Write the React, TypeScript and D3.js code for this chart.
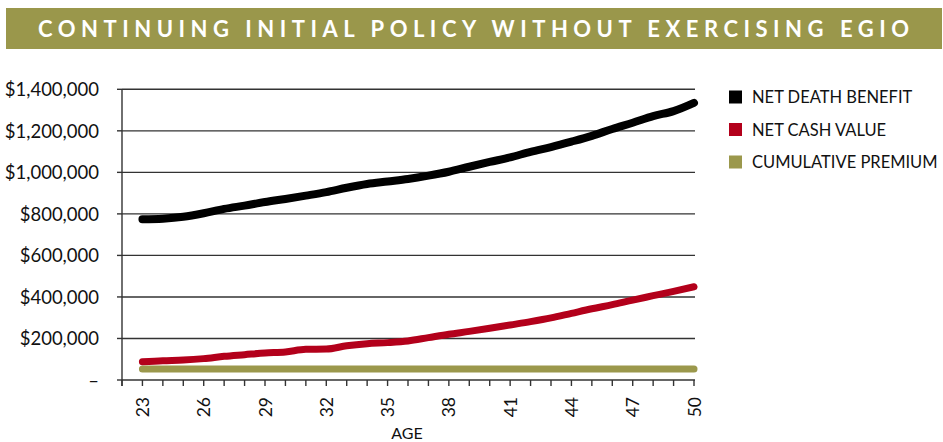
import * as d3 from 'd3'

const TITLE = 'CONTINUING INITIAL POLICY WITHOUT EXERCISING EGIO'

const ages = d3.range(23, 51)
const deathBenefit = [
  774000, 777000, 786000, 803000, 824000, 840000, 857000, 872000, 888000, 905000,
  926000, 944000, 956000, 968000, 984000, 1003000, 1027000, 1050000, 1072000, 1099000,
  1122000, 1148000, 1176000, 1209000, 1239000, 1271000, 1295000, 1335000,
]
const cashValue = [
  88000, 93000, 96000, 103000, 114000, 122000, 130000, 135000, 148000, 149000,
  165000, 175000, 180000, 188000, 204000, 220000, 234000, 249000, 265000, 281000,
  299000, 321000, 343000, 363000, 385000, 406000, 427000, 449000,
]
const cumulativePremium = ages.map(() => 53000)

const yTicks = [0, 200000, 400000, 600000, 800000, 1000000, 1200000, 1400000]
const xLabels = [23, 26, 29, 32, 35, 38, 41, 44, 47, 50]

const series = [
  { name: 'NET DEATH BENEFIT', values: deathBenefit, color: '#000000', width: 8 },
  { name: 'NET CASH VALUE', values: cashValue, color: '#b3001b', width: 7 },
  { name: 'CUMULATIVE PREMIUM', values: cumulativePremium, color: '#9b984c', width: 7 },
]

const FONT = 'Lato, "Open Sans", sans-serif'

export default function App() {
  const width = 943
  const height = 442
  const x = d3.scaleLinear().domain([22, 50]).range([122, 694])
  const y = d3.scaleLinear().domain([0, 1400000]).range([380, 89.3])
  const fmt = (v: number) => (v === 0 ? '–' : '$' + d3.format(',')(v))

  const line = (vals: number[]) =>
    d3
      .line<number>()
      .x((_, i) => x(ages[i]))
      .y((d) => y(d))
      .curve(d3.curveMonotoneX)(vals) ?? ''

  return (
    <svg
      width={width}
      height={height}
      style={{ position: 'absolute', left: 0, top: 0, background: '#fff' }}
    >
      {/* title bar */}
      <rect x={6} y={8} width={936} height={41} fill="#9a974b" />
      <text
        x={38}
        y={36.5}
        fill="#fff"
        fontFamily={FONT}
        fontWeight={700}
        fontSize={22}
        textLength={871}
        lengthAdjust="spacing"
      >
        {TITLE}
      </text>

      {/* grid + y ticks */}
      {yTicks.map((t) => (
        <g key={t}>
          {t > 0 && (
            <line x1={122} x2={695} y1={y(t)} y2={y(t)} stroke="#333" strokeWidth={1.4} />
          )}
          <line x1={117} x2={122} y1={y(t)} y2={y(t)} stroke="#333" strokeWidth={1.4} />
          <text
            x={99}
            y={y(t)}
            textAnchor="end"
            dominantBaseline="central"
            fontFamily={FONT}
            fontSize={18.5}
            fill="#111"
          >
            {fmt(t)}
          </text>
        </g>
      ))}

      {/* axes */}
      <line x1={122} x2={122} y1={89.3} y2={386} stroke="#333" strokeWidth={1.4} />
      <line x1={122} x2={695} y1={380} y2={380} stroke="#333" strokeWidth={1.4} />
      {d3.range(22, 51).map((a) => (
        <line key={a} x1={x(a)} x2={x(a)} y1={380} y2={386} stroke="#333" strokeWidth={1.4} />
      ))}
      {xLabels.map((a) => (
        <text
          key={a}
          transform={`translate(${x(a)},397) rotate(-90)`}
          textAnchor="end"
          dominantBaseline="central"
          fontFamily={FONT}
          fontSize={17.5}
          fill="#111"
        >
          {a}
        </text>
      ))}
      <text x={407} y={439} textAnchor="middle" fontFamily={FONT} fontSize={16} fill="#111">
        AGE
      </text>

      {/* lines */}
      {series
        .slice()
        .reverse()
        .map((s) => (
          <path
            key={s.name}
            d={line(s.values)}
            fill="none"
            stroke={s.color}
            strokeWidth={s.width}
            strokeLinecap="round"
            strokeLinejoin="round"
          />
        ))}

      {/* legend */}
      {series.map((s, i) => (
        <g key={s.name} transform={`translate(729,${97 + i * 32.5})`}>
          <rect x={0} y={-6.5} width={13} height={13} fill={s.color} />
          <text
            x={23}
            y={0}
            dominantBaseline="central"
            fontFamily={FONT}
            fontSize={16.5}
            fill="#111"
          >
            {s.name}
          </text>
        </g>
      ))}
    </svg>
  )
}
